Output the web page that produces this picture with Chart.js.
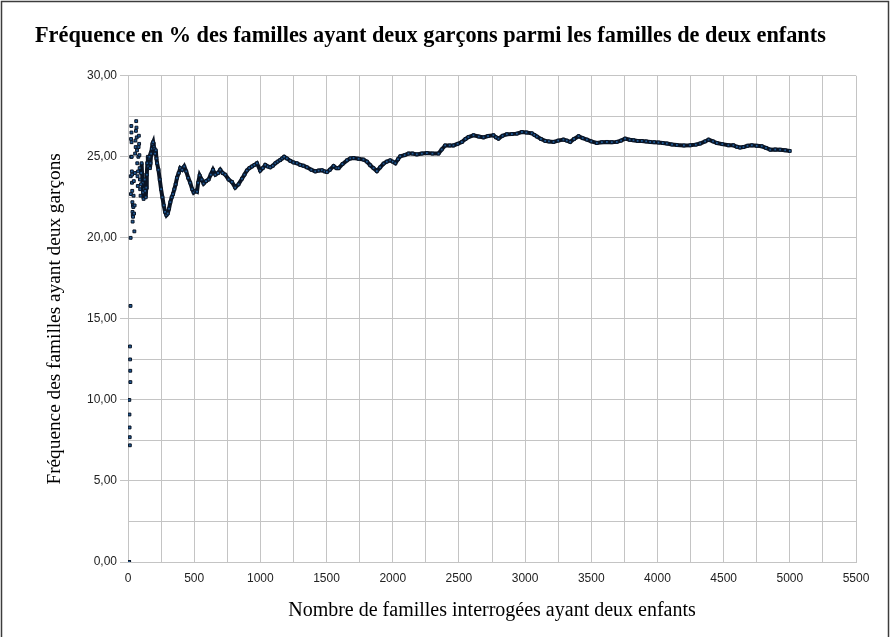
<!DOCTYPE html>
<html>
<head>
<meta charset="utf-8">
<script src="https://cdn.jsdelivr.net/npm/chart.js@4.4.1/dist/chart.umd.min.js"></script>
<style>
html,body{margin:0;padding:0;background:#fff;}
#wrap{position:relative;width:893px;height:637px;}
canvas{display:block;}
</style>
</head>
<body>
<div id="wrap"><canvas id="c" width="893" height="637"></canvas></div>
<script>
// ---- Data ----
const chartTitle = "Fréquence en % des familles ayant deux garçons parmi les familles de deux enfants";
const xTitle = "Nombre de familles interrogées ayant deux enfants";
const yTitle = "Fréquence des familles ayant deux garçons";

// first surveys: isolated points
const earlyN = [1,2,3,4,5,6,7,8,9,10,11,12,13,14,15,16,17,18,19,20,21,22,23,24,25,26,27,28,29,30,31,32,33,34,35,36,37,38,40,42,44,46,48,50,52,54,56,58,60,62,64,66,68,70,72,74,76,78,80,82,84,86,88,90,92,95,98,100];
const earlyFreq = [0,0,0,0,0,0,0,0,0,10.0,9.1,8.3,7.7,7.2,13.3,12.5,11.8,11.1,15.8,20.0,23.8,22.7,26.1,25.0,26.9,26.5,25.9,25.0,24.1,23.4,23.9,22.9,22.2,21.6,21.0,21.4,22.0,21.3,21.9,22.6,23.5,21.5,20.4,22.0,24.0,25.2,26.0,25.6,26.6,27.2,26.8,26.2,25.4,24.6,23.8,23.2,24.1,25.0,25.6,26.3,25.8,25.1,24.3,23.6,23.0,22.6,23.3,24.0];

// following surveys: running frequency
const mainN = [100,103,106,110,114,118,122,126,130,134,138,142,146,150,154,158,162,166,170,175,180,185,190,195,200,205,210,215,220,230,240,250,260,270,280,290,300,310,320,330,340,350,360,370,383,395,410,425,440,455,470,485,496,510,521,530,541,556,571,590,609,625,642,660,680,697,715,735,760,785,810,835,861,880,898,917,936,955,974,999,1018,1037,1056,1075,1094,1113,1130,1150,1165,1180,1200,1226,1250,1276,1301,1325,1352,1385,1415,1440,1465,1485,1503,1525,1553,1575,1591,1620,1654,1680,1704,1742,1779,1805,1830,1855,1880,1905,1931,1955,1981,2000,2020,2040,2057,2090,2119,2150,2182,2220,2258,2300,2346,2370,2396,2430,2459,2490,2522,2550,2572,2610,2650,2686,2720,2761,2780,2799,2830,2862,2900,2938,2976,3010,3051,3070,3089,3120,3152,3180,3215,3250,3290,3315,3341,3370,3404,3435,3467,3500,3542,3580,3618,3655,3693,3725,3756,3790,3819,3850,3882,3915,3945,3975,4008,4040,4071,4110,4147,4200,4247,4290,4323,4360,4386,4420,4449,4490,4536,4574,4600,4624,4650,4680,4713,4750,4788,4820,4852,4890,4927,4965,5000];
const mainFreq = [24.0,24.6,24.0,23.4,22.8,22.4,23.0,23.6,22.9,22.5,23.1,23.9,24.6,25.0,24.4,24.9,25.0,24.3,24.6,25.2,25.5,25.8,25.9,25.6,25.5,25.2,25.4,24.9,24.6,24.2,23.6,23.0,22.5,22.0,21.6,21.4,21.5,21.8,22.2,22.5,22.7,23.0,23.3,23.7,24.0,24.3,24.2,24.4,24.1,23.7,23.4,23.0,22.8,22.9,22.85,23.4,23.85,23.6,23.35,23.5,23.6,23.9,24.2,23.9,24.0,24.2,24.0,23.9,23.6,23.45,23.1,23.3,23.65,23.9,24.15,24.3,24.4,24.5,24.6,24.15,24.3,24.5,24.4,24.35,24.45,24.6,24.7,24.8,24.9,25.0,24.9,24.75,24.65,24.6,24.5,24.45,24.35,24.2,24.1,24.15,24.17,24.1,24.06,24.2,24.43,24.3,24.3,24.55,24.78,24.9,24.93,24.88,24.83,24.7,24.48,24.3,24.12,24.35,24.58,24.7,24.78,24.7,24.6,24.85,25.03,25.1,25.2,25.2,25.15,25.2,25.23,25.2,25.2,25.45,25.7,25.7,25.7,25.8,25.91,26.1,26.22,26.33,26.25,26.2,26.28,26.33,26.2,26.12,26.3,26.39,26.4,26.43,26.53,26.5,26.45,26.35,26.25,26.1,25.98,25.95,25.92,26.0,26.06,26.0,25.92,26.1,26.27,26.15,26.06,25.95,25.85,25.9,25.92,25.9,25.92,26.0,26.12,26.05,26.02,25.98,25.98,25.95,25.92,25.9,25.88,25.85,25.82,25.76,25.73,25.7,25.71,25.75,25.82,25.95,26.06,25.95,25.85,25.78,25.71,25.71,25.62,25.57,25.6,25.68,25.71,25.68,25.65,25.55,25.44,25.45,25.44,25.4,25.36];

const xMin = 0, xMax = 5500, xStep = 250, xLabelStep = 500;
const yMin = 0, yMax = 30, yStep = 2.5, yLabelStep = 5;

// ---- Build chart ----
const toPts = (xs, ys) => xs.map((x, i) => ({x: x, y: ys[i]}));
const lineCol = '#0a1424';
const ptFill = '#1f5a96';
const gridCol = '#c4c4c4';

const framePlugin = {
  id: 'frame',
  beforeDraw(chart) {
    const c = chart.ctx;
    c.save();
    c.fillStyle = '#fff';
    c.fillRect(0, 0, chart.width, chart.height);
    c.restore();
  },
  afterDraw(chart) {
    const c = chart.ctx;
    c.save();
    c.strokeStyle = '#3c3c3c';
    c.lineWidth = 1.5;
    c.strokeRect(1.5, 1.5, 887, 645);
    c.restore();
  }
};

new Chart(document.getElementById('c'), {
  type: 'scatter',
  data: {
    datasets: [
      {
        label: 'early',
        data: toPts(earlyN, earlyFreq),
        showLine: false,
        pointStyle: 'rect',
        pointRadius: 2,
        pointBackgroundColor: ptFill,
        pointBorderColor: lineCol,
        pointBorderWidth: 1
      },
      {
        label: 'main',
        data: toPts(mainN, mainFreq),
        showLine: true,
        borderColor: lineCol,
        borderWidth: 4,
        tension: 0,
        pointStyle: 'rect',
        pointRadius: 2,
        pointBackgroundColor: ptFill,
        pointBorderColor: lineCol,
        pointBorderWidth: 1
      }
    ]
  },
  options: {
    responsive: false,
    animation: false,
    devicePixelRatio: 1,
    layout: {padding: {top: 0, left: 35, right: 37, bottom: 0}},
    plugins: {
      legend: {display: false},
      tooltip: {enabled: false},
      title: {
        display: true,
        text: chartTitle,
        align: 'start',
        color: '#000',
        font: {family: '"Liberation Serif", "Times New Roman", serif', size: 22.3, weight: 'bold'},
        padding: {top: 23, bottom: 26}
      }
    },
    scales: {
      x: {
        type: 'linear',
        min: xMin, max: xMax,
        afterFit(scale) { scale.height = 75; },
        ticks: {
          stepSize: xStep,
          autoSkip: false,
          maxRotation: 0,
          padding: 3,
          color: '#222',
          font: {family: '"Liberation Sans", Arial, sans-serif', size: 12},
          callback: (v) => (v % xLabelStep === 0 ? String(v) : '')
        },
        grid: {color: gridCol, lineWidth: 1, tickLength: 6, tickColor: 'transparent'},
        border: {color: gridCol},
        title: {
          display: true,
          text: xTitle,
          color: '#000',
          font: {family: '"Liberation Serif", "Times New Roman", serif', size: 20},
          padding: {top: 0, bottom: 14}
        }
      },
      y: {
        type: 'linear',
        min: yMin, max: yMax,
        afterFit(scale) { scale.width = 93; },
        ticks: {
          stepSize: yStep,
          autoSkip: false,
          padding: 3,
          color: '#222',
          font: {family: '"Liberation Sans", Arial, sans-serif', size: 12},
          callback: (v) => (v % yLabelStep === 0 ? v.toFixed(2).replace('.', ',') : '')
        },
        grid: {
          color: gridCol, lineWidth: 1, tickLength: 8,
          tickColor: (ctx) => (ctx.tick && ctx.tick.value % yLabelStep === 0 ? gridCol : 'transparent')
        },
        border: {color: gridCol},
        title: {
          display: true,
          text: yTitle,
          color: '#000',
          font: {family: '"Liberation Serif", "Times New Roman", serif', size: 19.3},
          padding: {top: 8, bottom: 0}
        }
      }
    }
  },
  plugins: [framePlugin]
});
</script>
</body>
</html>
